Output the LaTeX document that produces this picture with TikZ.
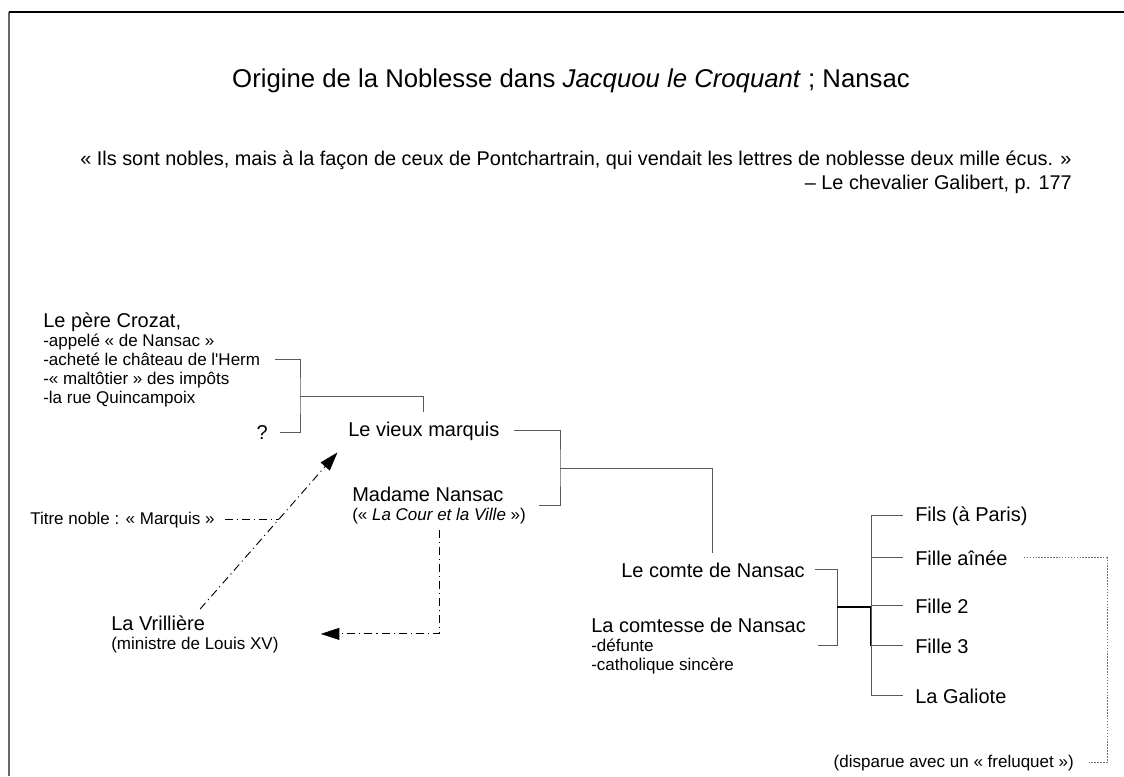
\documentclass[tikz,border=0pt]{standalone}
\usepackage{fontspec}
\setmainfont{Liberation Sans}
\usetikzlibrary{arrows.meta}

\newcommand{\grand}[1]{{\fontsize{15}{14.25}\selectfont #1}}

\begin{document}
\begin{tikzpicture}[x=0.75pt,y=-0.75pt]
      \tikzstyle{every node} = [inner sep=0pt, anchor=base west]
      \tikzstyle{nom} = [font=\fontsize{15}{14.25}\selectfont]
      \tikzstyle{petit} = [font=\fontsize{12.75}{14.25}\selectfont, align=left]
      \tikzstyle{lien} = [draw=black!65, line width=0.75pt]
      \tikzstyle{epais} = [draw=black, line width=1.3pt]
      \tikzstyle{renvoi} = [line width=0.7pt, dash pattern=on 6pt off 3pt on 0.8pt off 3pt]
      \tikzstyle{pointille} = [draw=black!55, line width=0.75pt, dash pattern=on 1.1pt off 1.1pt]

      \useasboundingbox (0,0) rectangle (1124,776);
      \draw[black!60, line width=1.5pt] (9,776) -- (9,12);
      \draw[line width=0.9pt] (9,12) -- (1124,12);

      \node[font=\fontsize{19.3}{20}\selectfont, anchor=base] (entete) at (571,87)
        {Origine de la Noblesse dans \textit{Jacquou le Croquant} ; Nansac};
      \node[font=\fontsize{14.9}{16}\selectfont, anchor=base] (citation) at (576,165)
        {« Ils sont nobles, mais à la façon de ceux de Pontchartrain, qui vendait les lettres de noblesse deux mille écus. »};
      \node[font=\fontsize{14.9}{16}\selectfont, anchor=base east] (source) at (1072,189)
        {– Le chevalier Galibert, p. 177};

      % multi-line nodes: base = last line
      \node[petit] (crozat) at (43,403) {\grand{Le père Crozat,}\\-appelé « de Nansac »\\-acheté le château de l\textquotesingle Herm\\-« maltôtier » des impôts\\-la rue Quincampoix};
      \node[nom, anchor=base east] (inconnu) at (268,439) {?};
      \node[nom] (marquis) at (348,436) {Le vieux marquis};
      \node[petit] (madame) at (352,520) {\grand{Madame Nansac}\\(« \textit{La Cour et la Ville} »)};
      \node[petit] (noble) at (30,524) {Titre noble : « Marquis »};
      \node[petit] (vrilliere) at (111,649) {\grand{La Vrillière}\\(ministre de Louis XV)};
      \node[nom] (comte) at (621,577) {Le comte de Nansac};
      \node[petit] (comtesse) at (591,670) {\grand{La comtesse de Nansac}\\-défunte\\-catholique sincère};

        \foreach \n/\t/\y in {fils/Fils (à Paris)/521, ainee/Fille aînée/565, fille2/Fille 2/613, fille3/Fille 3/653, galiote/La Galiote/703}{
          \node[nom] (\n) at (915,\y) {\t};
      }
      \node[petit, anchor=base east] (disparue) at (1074,767) {(disparue avec un « freluquet »)};

      \coordinate (jA) at (300,396);
      \coordinate (jB) at (560,468);
      \coordinate (jC) at (837,607);
      \coordinate (jD) at (871,607);
      \coordinate (jE) at (1107,558);

      \path[lien, shorten <=11.25pt, shorten >=9pt]
      (crozat.east) -| (jA) |- (inconnu.east);
      \path[lien, shorten >=6.75pt]
      (jA) -| (marquis.north);
      \path[lien, shorten <=10.5pt, shorten >=9.75pt]
      (marquis.east) -| (jB) |- (madame.east);
      \path[lien, shorten >=6.75pt]
      (jB) -| (comte.north);
      \path[lien, shorten <=7.5pt, shorten >=9pt]
      (comte.east) -| (jC) |- (comtesse.east);

      \draw[epais] (jC) -- (jD) -- (jD |- fille3.west);
        \foreach \n in {fils, ainee, fille2, fille3, galiote}{
          \path[lien, shorten >=9pt] (jD) |- (\n.west);
      }
      \path[pointille, shorten <=12pt, shorten >=10.5pt]
      (ainee.east) -- (ainee.east -| jE) |- (disparue.east);

      \draw[renvoi, -{Triangle[length=14pt, width=9pt]}, shorten <=6pt, shorten >=12pt]
      (vrilliere.north) -- coordinate[pos=.55] (jT) (marquis.south west);
      \draw[renvoi, shorten <=7.5pt]
      (noble.east) -- (noble.east -| jT);
      \draw[renvoi, -{Triangle[length=14pt, width=9pt]}, shorten <=4.5pt, shorten >=31.5pt]
      (madame.south) |- (vrilliere.east);
    \end{tikzpicture}
\end{document}
